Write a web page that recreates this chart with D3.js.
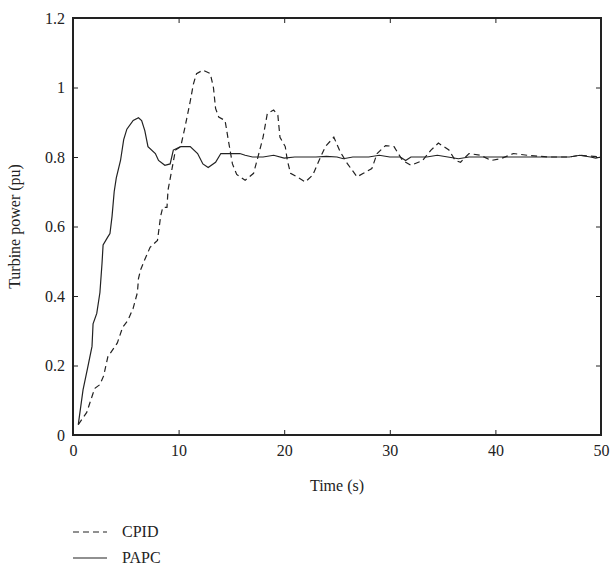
<!DOCTYPE html>
<html><head><meta charset="utf-8">
<script src="https://cdn.jsdelivr.net/npm/d3@7"></script>
<style>body{margin:0;background:#fff}svg{display:block}text{font-family:"Liberation Serif","DejaVu Serif",serif;fill:#222}</style>
</head><body><svg id="c" width="615" height="569"></svg>
<script>
const xTicks = [0,10,20,30,40,50];
const yTicks = [0,0.2,0.4,0.6,0.8,1,1.2];
const yTickLabels = ["0","0.2","0.4","0.6","0.8","1","1.2"];
const seriesNames = ["CPID","PAPC"];
const cpidT = [0.5,1.3,1.9,2.1,2.55,2.9,3.3,4.2,4.7,5.2,5.7,6.1,6.2,6.4,6.8,7.3,8.0,8.3,8.5,8.9,9.0,9.4,9.7,10.2,10.6,10.9,11.1,11.4,11.7,12.3,13.0,13.3,13.5,13.8,14.4,14.7,15.1,15.5,16.3,17.1,17.6,18.0,18.4,19.0,19.4,19.6,20.1,20.3,20.6,21.2,22.0,22.7,23.3,23.9,24.7,25.3,26.0,26.9,27.5,28.3,28.8,29.6,30.4,31.2,32.0,33.1,33.9,34.6,35.6,36.2,36.7,37.5,38.6,39.6,40.5,41.7,43,45,47,48,50];
const cpidV = [0.03,0.065,0.12,0.135,0.145,0.17,0.225,0.265,0.31,0.33,0.365,0.41,0.45,0.475,0.505,0.54,0.56,0.63,0.655,0.655,0.705,0.77,0.82,0.83,0.885,0.93,0.96,1.01,1.04,1.05,1.04,1.0,0.94,0.915,0.905,0.85,0.78,0.75,0.733,0.753,0.81,0.857,0.925,0.935,0.92,0.857,0.83,0.79,0.753,0.743,0.728,0.748,0.79,0.83,0.857,0.815,0.78,0.743,0.753,0.767,0.81,0.833,0.83,0.79,0.776,0.79,0.82,0.84,0.82,0.79,0.785,0.81,0.805,0.79,0.795,0.81,0.805,0.80,0.80,0.805,0.80];
const papcT = [0.5,0.95,1.4,1.8,1.9,2.25,2.55,2.75,2.85,3.3,3.5,3.7,3.9,4.1,4.5,4.8,5.1,5.7,6.2,6.5,6.8,7.1,7.8,8.1,8.7,9.2,9.5,10.2,11.1,11.8,12.3,12.8,13.5,14.0,15.8,16.3,17,18,19,20,21,22,23,24,25,25.6,26.5,28,29,30,31,31.5,32,33.5,34.5,35.5,36.5,37.5,39,40,42,45,47,48,49,49.5,50];
const papcV = [0.03,0.13,0.195,0.255,0.32,0.35,0.41,0.495,0.547,0.57,0.58,0.63,0.70,0.74,0.79,0.85,0.88,0.905,0.913,0.905,0.876,0.83,0.81,0.79,0.776,0.78,0.82,0.83,0.83,0.81,0.78,0.77,0.785,0.81,0.81,0.805,0.80,0.80,0.805,0.797,0.80,0.80,0.80,0.802,0.80,0.795,0.80,0.80,0.805,0.80,0.80,0.79,0.80,0.80,0.805,0.80,0.795,0.80,0.80,0.80,0.80,0.80,0.80,0.805,0.80,0.797,0.80];

const svg = d3.select("#c");
const L=73,R=601,T=18,B=435;
const x = d3.scaleLinear().domain([0,50]).range([L,R]);
const y = d3.scaleLinear().domain([0,1.2]).range([B,T]);
const ink="#222";

const line = d3.line().x(d=>x(d[0])).y(d=>y(d[1]));
const cp = cpidT.map((t,i)=>[t,cpidV[i]]);
const pa = papcT.map((t,i)=>[t,papcV[i]]);
svg.append("path").attr("d",line(cp)).attr("fill","none").attr("stroke",ink).attr("stroke-width",1.2).attr("stroke-dasharray","6,4");
svg.append("path").attr("d",line(pa)).attr("fill","none").attr("stroke",ink).attr("stroke-width",1.2);

// frame
svg.append("rect").attr("x",L).attr("y",T).attr("width",R-L).attr("height",B-T).attr("fill","none").attr("stroke",ink).attr("stroke-width",2);

// axes with inward ticks
const xb = svg.append("g").attr("transform",`translate(0,${B})`).call(d3.axisBottom(x).tickValues(xTicks).tickSizeInner(-5).tickSizeOuter(0).tickPadding(10));
const xt = svg.append("g").attr("transform",`translate(0,${T})`).call(d3.axisTop(x).tickValues(xTicks).tickSizeInner(-5).tickSizeOuter(0).tickFormat(""));
const yl = svg.append("g").attr("transform",`translate(${L},0)`).call(d3.axisLeft(y).tickValues(yTicks).tickSizeInner(-5).tickSizeOuter(0).tickPadding(8).tickFormat((d,i)=>yTickLabels[i]));
const yr = svg.append("g").attr("transform",`translate(${R},0)`).call(d3.axisRight(y).tickValues(yTicks).tickSizeInner(-5).tickSizeOuter(0).tickFormat(""));
[xb,xt,yl,yr].forEach(g=>{g.select(".domain").remove();g.selectAll("line").attr("stroke",ink).attr("stroke-width",1);g.selectAll("text").attr("font-size",16).attr("font-family","Liberation Serif").attr("fill",ink);});

svg.append("text").attr("x",(L+R)/2).attr("y",491).attr("text-anchor","middle").attr("font-size",16).text("Time (s)");
svg.append("text").attr("transform",`translate(20,${(T+B)/2}) rotate(-90)`).attr("text-anchor","middle").attr("font-size",16).text("Turbine power (pu)");

// legend
const lg = svg.append("g");
seriesNames.forEach((n,i)=>{
  const yy = 532 + i*26;
  lg.append("line").attr("x1",73).attr("x2",107).attr("y1",yy).attr("y2",yy).attr("stroke",ink).attr("stroke-width",1.2).attr("stroke-dasharray",i===0?"6,4":null);
  lg.append("text").attr("x",122).attr("y",yy+5).attr("font-size",16).text(n);
});
</script></body></html>
